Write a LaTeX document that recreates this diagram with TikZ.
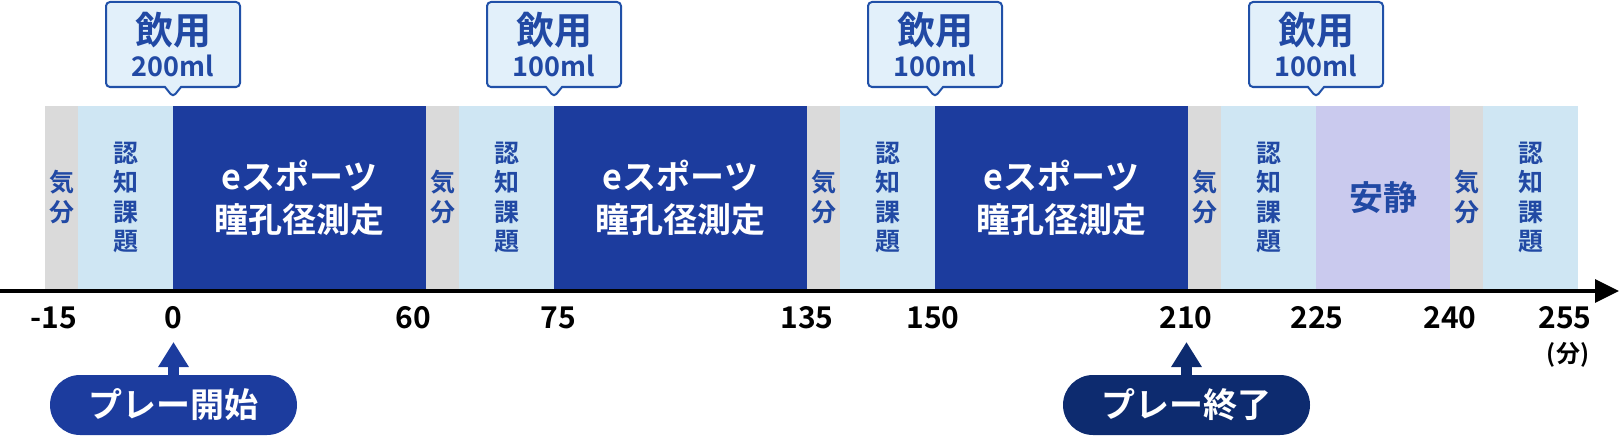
\documentclass[tikz,border=0pt]{standalone}
\usepackage{fontspec}
\setmainfont{Noto Sans CJK JP}[BoldFont={Noto Sans CJK JP Bold}]
\usetikzlibrary{positioning,shapes.callouts,shapes.misc,arrows.meta}

\definecolor{playblue}{HTML}{1C3C9E}
\definecolor{navy}{HTML}{0D2B6F}
\definecolor{taskblue}{HTML}{CFE6F3}
\definecolor{moodgray}{HTML}{DADADA}
\definecolor{restlilac}{HTML}{CACAEE}
\definecolor{drinkfill}{HTML}{E2F0FA}
\definecolor{drinkline}{HTML}{2050A8}
\definecolor{textblue}{HTML}{2149A4}

\begin{document}
\begin{tikzpicture}[
        x=1pt, y=-1pt,
        node distance=0pt, % Blocks touch each other
        block/.style={minimum height=183pt, inner sep=0pt, outer sep=0pt, align=center, font=\bfseries},
        mood/.style={block, fill=moodgray, text=textblue, minimum width=33pt, font=\bfseries\fontsize{25}{30}\selectfont}, % Mood check
        task/.style={block, fill=taskblue, text=textblue, minimum width=95pt, font=\bfseries\fontsize{25}{29.5}\selectfont}, % Cognitive task
        play/.style={block, fill=playblue, text=white, minimum width=253pt, font=\bfseries\fontsize{34}{43}\selectfont}, % eSports
        rest/.style={block, fill=restlilac, text=textblue, minimum width=134pt, font=\bfseries\fontsize{34}{40}\selectfont}, % Rest
        drink/.style={rectangle callout, draw=drinkline, line width=2pt, fill=drinkfill, rounded corners=4pt, text=textblue,
            minimum width=134pt, minimum height=85pt, inner sep=0pt, callout pointer width=16pt, align=center,
            font=\bfseries\fontsize{27}{32.5}\selectfont}, % Drink box
        tick/.style={font=\bfseries\fontsize{30}{30}\selectfont, inner sep=0pt}, % Axis labels
        event/.style={rounded rectangle, minimum width=247pt, minimum height=60pt, inner sep=0pt, text=white,
            font=\bfseries\fontsize{34}{34}\selectfont}, % Start / end pill
        uparrow/.style={line width=11pt, -{Triangle[length=25pt, width=29pt]}}
        ]
        \useasboundingbox (0,0) rectangle (1620,436);

        % Define blocks
        \node (mood1) [mood, anchor=west] at (45,197.5) {気\\分};
        \node (task1) [task, right=of mood1] {認\\知\\課\\題};
        \node (play1) [play, right=of task1] {eスポーツ\\瞳孔径測定};
        \node (mood2) [mood, right=of play1] {気\\分};
        \node (task2) [task, right=of mood2] {認\\知\\課\\題};
        \node (play2) [play, right=of task2] {eスポーツ\\瞳孔径測定};
        \node (mood3) [mood, right=of play2] {気\\分};
        \node (task3) [task, right=of mood3] {認\\知\\課\\題};
        \node (play3) [play, right=of task3] {eスポーツ\\瞳孔径測定};
        \node (mood4) [mood, right=of play3] {気\\分};
        \node (task4) [task, right=of mood4] {認\\知\\課\\題};
        \node (rest) [rest, right=of task4] {安静};
        \node (mood5) [mood, right=of rest] {気\\分};
        \node (task5) [task, right=of mood5] {認\\知\\課\\題};

        % Drink callouts
        \node (drink1) [drink, callout absolute pointer={([yshift=9pt]play1.north west)}, above=18pt of play1.north west] {{\fontsize{38}{32.5}\selectfont 飲用}\\200ml};
        \node (drink2) [drink, callout absolute pointer={([yshift=9pt]play2.north west)}, above=18pt of play2.north west] {{\fontsize{38}{32.5}\selectfont 飲用}\\100ml};
        \node (drink3) [drink, callout absolute pointer={([yshift=9pt]play3.north west)}, above=18pt of play3.north west] {{\fontsize{38}{32.5}\selectfont 飲用}\\100ml};
        \node (drink4) [drink, callout absolute pointer={([yshift=9pt]rest.north west)}, above=18pt of rest.north west] {{\fontsize{38}{32.5}\selectfont 飲用}\\100ml};

        % Time axis
        \coordinate (axisstart) at (0,291);
        \coordinate (axisend) at (1619,291);
        \draw[line width=3.5pt, -{Triangle[length=24pt, width=23pt]}] (axisstart) -- (axisend);

        % Axis labels
        \node (tm15) [tick] at (54,318) {-15};
        \node (t0) [tick] at (173,318) {0};
        \node (t60) [tick] at (413,318) {60};
        \node (t75) [tick] at (558,318) {75};
        \node (t135) [tick] at (807,318) {135};
        \node (t150) [tick] at (933,318) {150};
        \node (t210) [tick] at (1186,318) {210};
        \node (t225) [tick] at (1317,318) {225};
        \node (t240) [tick] at (1450,318) {240};
        \node (t255) [tick] at (1565,318) {255};
        \node (unit) [font=\bfseries\fontsize{24}{24}\selectfont, inner sep=0pt] at (1568,355) {(分)};

        % Start and end of play
        \node (start) [event, fill=playblue] at (173.5,405) {プレー開始};
        \node (finish) [event, fill=navy] at (1186.5,405) {プレー終了};
        \coordinate (starttip) at (173.5,342);
        \coordinate (finishtip) at (1186.5,342);
        \draw[uparrow, playblue] (start.north) -- (starttip);
        \draw[uparrow, navy] (finish.north) -- (finishtip);

    \end{tikzpicture}
\end{document}
